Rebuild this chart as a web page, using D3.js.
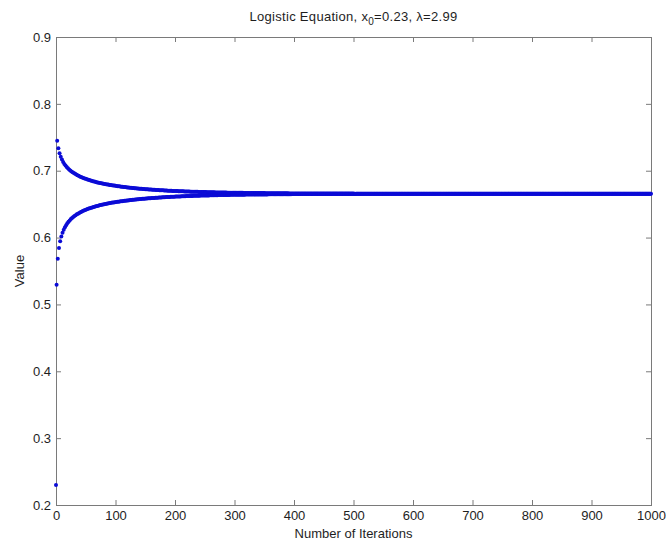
<!DOCTYPE html>
<html>
<head>
<meta charset="utf-8">
<script src="https://cdn.jsdelivr.net/npm/d3@7/dist/d3.min.js"></script>
<style>
  body { margin: 0; background: #fff; }
  text { font-family: "Liberation Sans", Arial, Helvetica, sans-serif; fill: #1e1e1e; }
</style>
</head>
<body>
<svg id="chart" width="666" height="543"></svg>
<script>
// Orbit of the logistic map x -> 2.99 x (1 - x), starting at x0 = 0.23.
const startValue = 0.23;

// Odd iterations 1, 3, 5, ..., 999 (the branch below the fixed point)
const lowerBranch = [
  0.5295, 0.5682, 0.5843, 0.5945, 0.6017, 0.6073, 0.6117, 0.6154, 0.6185,          // 1-17
  0.6213, 0.6236, 0.6257, 0.6276, 0.6292, 0.6308, 0.6322, 0.6335, 0.6347, 0.6358,  // 19-37
  0.6369, 0.6378, 0.6388, 0.6396, 0.6405, 0.6412, 0.6420, 0.6427, 0.6433, 0.6440,  // 39-57
  0.6446, 0.6451, 0.6457, 0.6462, 0.6467, 0.6472, 0.6477, 0.6482, 0.6486, 0.6490,  // 59-77
  0.6494, 0.6498, 0.6502, 0.6506, 0.6509, 0.6513, 0.6516, 0.6519, 0.6523, 0.6526,  // 79-97
  0.6529, 0.6531, 0.6534, 0.6537, 0.6540, 0.6542, 0.6545, 0.6547, 0.6550, 0.6552,  // 99-117
  0.6554, 0.6556, 0.6558, 0.6561, 0.6563, 0.6565, 0.6567, 0.6568, 0.6570, 0.6572,  // 119-137
  0.6574, 0.6576, 0.6577, 0.6579, 0.6580, 0.6582, 0.6584, 0.6585, 0.6587, 0.6588,  // 139-157
  0.6589, 0.6591, 0.6592, 0.6593, 0.6595, 0.6596, 0.6597, 0.6598, 0.6600, 0.6601,  // 159-177
  0.6602, 0.6603, 0.6604, 0.6605, 0.6606, 0.6607, 0.6608, 0.6609, 0.6610, 0.6611,  // 179-197
  0.6612, 0.6613, 0.6614, 0.6614, 0.6615, 0.6616, 0.6617, 0.6618, 0.6618, 0.6619,  // 199-217
  0.6620, 0.6621, 0.6621, 0.6622, 0.6623, 0.6623, 0.6624, 0.6625, 0.6625, 0.6626,  // 219-237
  0.6626, 0.6627, 0.6628, 0.6628, 0.6629, 0.6629, 0.6630, 0.6630, 0.6631, 0.6631,  // 239-257
  0.6632, 0.6632, 0.6633, 0.6633, 0.6634, 0.6634, 0.6634, 0.6635, 0.6635, 0.6636,  // 259-277
  0.6636, 0.6636, 0.6637, 0.6637, 0.6638, 0.6638, 0.6638, 0.6639, 0.6639, 0.6639,  // 279-297
  0.6640, 0.6640, 0.6640, 0.6641, 0.6641, 0.6641, 0.6641, 0.6642, 0.6642, 0.6642,  // 299-317
  0.6643, 0.6643, 0.6643, 0.6643, 0.6644, 0.6644, 0.6644, 0.6644, 0.6644, 0.6645,  // 319-337
  0.6645, 0.6645, 0.6645, 0.6646, 0.6646, 0.6646, 0.6646, 0.6646, 0.6646, 0.6647,  // 339-357
  0.6647, 0.6647, 0.6647, 0.6647, 0.6648, 0.6648, 0.6648, 0.6648, 0.6648, 0.6648,  // 359-377
  0.6648, 0.6649, 0.6649, 0.6649, 0.6649, 0.6649, 0.6649, 0.6649, 0.6649, 0.6650,  // 379-397
  0.6650, 0.6650, 0.6650, 0.6650, 0.6650, 0.6650, 0.6650, 0.6650, 0.6651, 0.6651,  // 399-417
  0.6651, 0.6651, 0.6651, 0.6651, 0.6651, 0.6651, 0.6651, 0.6651, 0.6651, 0.6652,  // 419-437
  0.6652, 0.6652, 0.6652, 0.6652, 0.6652, 0.6652, 0.6652, 0.6652, 0.6652, 0.6652,  // 439-457
  0.6652, 0.6652, 0.6652, 0.6653, 0.6653, 0.6653, 0.6653, 0.6653, 0.6653, 0.6653,  // 459-477
  0.6653, 0.6653, 0.6653, 0.6653, 0.6653, 0.6653, 0.6653, 0.6653, 0.6653, 0.6653,  // 479-497
  0.6653, 0.6653, 0.6653, 0.6654, 0.6654, 0.6654, 0.6654, 0.6654, 0.6654, 0.6654,  // 499-517
  0.6654, 0.6654, 0.6654, 0.6654, 0.6654, 0.6654, 0.6654, 0.6654, 0.6654, 0.6654,  // 519-537
  0.6654, 0.6654, 0.6654, 0.6654, 0.6654, 0.6654, 0.6654, 0.6654, 0.6654, 0.6654,  // 539-557
  0.6654, 0.6654, 0.6654, 0.6654, 0.6654, 0.6654, 0.6654, 0.6655, 0.6655, 0.6655,  // 559-577
  0.6655, 0.6655, 0.6655, 0.6655, 0.6655, 0.6655, 0.6655, 0.6655, 0.6655, 0.6655,  // 579-597
  0.6655, 0.6655, 0.6655, 0.6655, 0.6655, 0.6655, 0.6655, 0.6655, 0.6655, 0.6655,  // 599-617
  0.6655, 0.6655, 0.6655, 0.6655, 0.6655, 0.6655, 0.6655, 0.6655, 0.6655, 0.6655,  // 619-637
  0.6655, 0.6655, 0.6655, 0.6655, 0.6655, 0.6655, 0.6655, 0.6655, 0.6655, 0.6655,  // 639-657
  0.6655, 0.6655, 0.6655, 0.6655, 0.6655, 0.6655, 0.6655, 0.6655, 0.6655, 0.6655,  // 659-677
  0.6655, 0.6655, 0.6655, 0.6655, 0.6655, 0.6655, 0.6655, 0.6655, 0.6655, 0.6655,  // 679-697
  0.6655, 0.6655, 0.6655, 0.6655, 0.6655, 0.6655, 0.6655, 0.6655, 0.6655, 0.6655,  // 699-717
  0.6655, 0.6655, 0.6655, 0.6655, 0.6655, 0.6655, 0.6655, 0.6655, 0.6655, 0.6655,  // 719-737
  0.6655, 0.6655, 0.6655, 0.6655, 0.6655, 0.6655, 0.6655, 0.6655, 0.6655, 0.6655,  // 739-757
  0.6655, 0.6655, 0.6655, 0.6655, 0.6655, 0.6655, 0.6655, 0.6655, 0.6655, 0.6655,  // 759-777
  0.6655, 0.6655, 0.6655, 0.6655, 0.6655, 0.6655, 0.6655, 0.6655, 0.6655, 0.6655,  // 779-797
  0.6655, 0.6655, 0.6655, 0.6655, 0.6655, 0.6655, 0.6655, 0.6655, 0.6655, 0.6655,  // 799-817
  0.6655, 0.6655, 0.6655, 0.6655, 0.6655, 0.6655, 0.6655, 0.6655, 0.6655, 0.6655,  // 819-837
  0.6655, 0.6655, 0.6655, 0.6655, 0.6655, 0.6655, 0.6655, 0.6655, 0.6655, 0.6655,  // 839-857
  0.6655, 0.6655, 0.6655, 0.6655, 0.6655, 0.6655, 0.6655, 0.6655, 0.6655, 0.6655,  // 859-877
  0.6655, 0.6655, 0.6655, 0.6655, 0.6655, 0.6655, 0.6655, 0.6655, 0.6655, 0.6655,  // 879-897
  0.6655, 0.6655, 0.6655, 0.6655, 0.6655, 0.6655, 0.6655, 0.6655, 0.6655, 0.6655,  // 899-917
  0.6655, 0.6655, 0.6655, 0.6655, 0.6655, 0.6655, 0.6655, 0.6655, 0.6655, 0.6655,  // 919-937
  0.6655, 0.6655, 0.6655, 0.6655, 0.6655, 0.6655, 0.6655, 0.6655, 0.6655, 0.6655,  // 939-957
  0.6655, 0.6655, 0.6655, 0.6656, 0.6656, 0.6656, 0.6656, 0.6656, 0.6656, 0.6656,  // 959-977
  0.6656, 0.6656, 0.6656, 0.6656, 0.6656, 0.6656, 0.6656, 0.6656, 0.6656, 0.6656,  // 979-997
  0.6656                                                                            // 999
];

// Even iterations 2, 4, 6, ..., 1000 (the branch above the fixed point)
const upperBranch = [
  0.7449, 0.7336, 0.7262, 0.7208, 0.7166, 0.7131, 0.7102, 0.7077, 0.7055,          // 2-18
  0.7035, 0.7018, 0.7003, 0.6989, 0.6976, 0.6964, 0.6953, 0.6942, 0.6932, 0.6923,  // 20-38
  0.6915, 0.6906, 0.6899, 0.6891, 0.6884, 0.6878, 0.6871, 0.6865, 0.6860, 0.6854,  // 40-58
  0.6849, 0.6844, 0.6839, 0.6834, 0.6829, 0.6825, 0.6821, 0.6817, 0.6813, 0.6809,  // 60-78
  0.6805, 0.6802, 0.6798, 0.6795, 0.6792, 0.6788, 0.6785, 0.6782, 0.6780, 0.6777,  // 80-98
  0.6774, 0.6771, 0.6769, 0.6766, 0.6764, 0.6761, 0.6759, 0.6757, 0.6755, 0.6753,  // 100-118
  0.6750, 0.6748, 0.6746, 0.6744, 0.6743, 0.6741, 0.6739, 0.6737, 0.6735, 0.6734,  // 120-138
  0.6732, 0.6731, 0.6729, 0.6727, 0.6726, 0.6724, 0.6723, 0.6722, 0.6720, 0.6719,  // 140-158
  0.6718, 0.6716, 0.6715, 0.6714, 0.6713, 0.6712, 0.6710, 0.6709, 0.6708, 0.6707,  // 160-178
  0.6706, 0.6705, 0.6704, 0.6703, 0.6702, 0.6701, 0.6700, 0.6699, 0.6698, 0.6698,  // 180-198
  0.6697, 0.6696, 0.6695, 0.6694, 0.6693, 0.6693, 0.6692, 0.6691, 0.6690, 0.6690,  // 200-218
  0.6689, 0.6688, 0.6688, 0.6687, 0.6686, 0.6686, 0.6685, 0.6685, 0.6684, 0.6684,  // 220-238
  0.6683, 0.6682, 0.6682, 0.6681, 0.6681, 0.6680, 0.6680, 0.6679, 0.6679, 0.6678,  // 240-258
  0.6678, 0.6677, 0.6677, 0.6677, 0.6676, 0.6676, 0.6675, 0.6675, 0.6675, 0.6674,  // 260-278
  0.6674, 0.6673, 0.6673, 0.6673, 0.6672, 0.6672, 0.6672, 0.6671, 0.6671, 0.6671,  // 280-298
  0.6670, 0.6670, 0.6670, 0.6670, 0.6669, 0.6669, 0.6669, 0.6669, 0.6668, 0.6668,  // 300-318
  0.6668, 0.6668, 0.6667, 0.6667, 0.6667, 0.6667, 0.6666, 0.6666, 0.6666, 0.6666,  // 320-338
  0.6666, 0.6665, 0.6665, 0.6665, 0.6665, 0.6665, 0.6664, 0.6664, 0.6664, 0.6664,  // 340-358
  0.6664, 0.6664, 0.6663, 0.6663, 0.6663, 0.6663, 0.6663, 0.6663, 0.6662, 0.6662,  // 360-378
  0.6662, 0.6662, 0.6662, 0.6662, 0.6662, 0.6662, 0.6661, 0.6661, 0.6661, 0.6661,  // 380-398
  0.6661, 0.6661, 0.6661, 0.6661, 0.6661, 0.6660, 0.6660, 0.6660, 0.6660, 0.6660,  // 400-418
  0.6660, 0.6660, 0.6660, 0.6660, 0.6660, 0.6660, 0.6659, 0.6659, 0.6659, 0.6659,  // 420-438
  0.6659, 0.6659, 0.6659, 0.6659, 0.6659, 0.6659, 0.6659, 0.6659, 0.6659, 0.6659,  // 440-458
  0.6659, 0.6658, 0.6658, 0.6658, 0.6658, 0.6658, 0.6658, 0.6658, 0.6658, 0.6658,  // 460-478
  0.6658, 0.6658, 0.6658, 0.6658, 0.6658, 0.6658, 0.6658, 0.6658, 0.6658, 0.6658,  // 480-498
  0.6658, 0.6657, 0.6657, 0.6657, 0.6657, 0.6657, 0.6657, 0.6657, 0.6657, 0.6657,  // 500-518
  0.6657, 0.6657, 0.6657, 0.6657, 0.6657, 0.6657, 0.6657, 0.6657, 0.6657, 0.6657,  // 520-538
  0.6657, 0.6657, 0.6657, 0.6657, 0.6657, 0.6657, 0.6657, 0.6657, 0.6657, 0.6657,  // 540-558
  0.6657, 0.6657, 0.6657, 0.6657, 0.6657, 0.6657, 0.6656, 0.6656, 0.6656, 0.6656,  // 560-578
  0.6656, 0.6656, 0.6656, 0.6656, 0.6656, 0.6656, 0.6656, 0.6656, 0.6656, 0.6656,  // 580-598
  0.6656, 0.6656, 0.6656, 0.6656, 0.6656, 0.6656, 0.6656, 0.6656, 0.6656, 0.6656,  // 600-618
  0.6656, 0.6656, 0.6656, 0.6656, 0.6656, 0.6656, 0.6656, 0.6656, 0.6656, 0.6656,  // 620-638
  0.6656, 0.6656, 0.6656, 0.6656, 0.6656, 0.6656, 0.6656, 0.6656, 0.6656, 0.6656,  // 640-658
  0.6656, 0.6656, 0.6656, 0.6656, 0.6656, 0.6656, 0.6656, 0.6656, 0.6656, 0.6656,  // 660-678
  0.6656, 0.6656, 0.6656, 0.6656, 0.6656, 0.6656, 0.6656, 0.6656, 0.6656, 0.6656,  // 680-698
  0.6656, 0.6656, 0.6656, 0.6656, 0.6656, 0.6656, 0.6656, 0.6656, 0.6656, 0.6656,  // 700-718
  0.6656, 0.6656, 0.6656, 0.6656, 0.6656, 0.6656, 0.6656, 0.6656, 0.6656, 0.6656,  // 720-738
  0.6656, 0.6656, 0.6656, 0.6656, 0.6656, 0.6656, 0.6656, 0.6656, 0.6656, 0.6656,  // 740-758
  0.6656, 0.6656, 0.6656, 0.6656, 0.6656, 0.6656, 0.6656, 0.6656, 0.6656, 0.6656,  // 760-778
  0.6656, 0.6656, 0.6656, 0.6656, 0.6656, 0.6656, 0.6656, 0.6656, 0.6656, 0.6656,  // 780-798
  0.6656, 0.6656, 0.6656, 0.6656, 0.6656, 0.6656, 0.6656, 0.6656, 0.6656, 0.6656,  // 800-818
  0.6656, 0.6656, 0.6656, 0.6656, 0.6656, 0.6656, 0.6656, 0.6656, 0.6656, 0.6656,  // 820-838
  0.6656, 0.6656, 0.6656, 0.6656, 0.6656, 0.6656, 0.6656, 0.6656, 0.6656, 0.6656,  // 840-858
  0.6656, 0.6656, 0.6656, 0.6656, 0.6656, 0.6656, 0.6656, 0.6656, 0.6656, 0.6656,  // 860-878
  0.6656, 0.6656, 0.6656, 0.6656, 0.6656, 0.6656, 0.6656, 0.6656, 0.6656, 0.6656,  // 880-898
  0.6656, 0.6656, 0.6656, 0.6656, 0.6656, 0.6656, 0.6656, 0.6656, 0.6656, 0.6656,  // 900-918
  0.6656, 0.6656, 0.6656, 0.6656, 0.6656, 0.6656, 0.6656, 0.6656, 0.6656, 0.6656,  // 920-938
  0.6656, 0.6656, 0.6656, 0.6656, 0.6656, 0.6656, 0.6656, 0.6656, 0.6656, 0.6656,  // 940-958
  0.6656, 0.6656, 0.6656, 0.6656, 0.6656, 0.6656, 0.6656, 0.6656, 0.6656, 0.6656,  // 960-978
  0.6656, 0.6656, 0.6656, 0.6656, 0.6656, 0.6656, 0.6656, 0.6656, 0.6656, 0.6656,  // 980-998
  0.6656                                                                            // 1000
];

const xTickValues = [0, 100, 200, 300, 400, 500, 600, 700, 800, 900, 1000];
const yTickValues = [0.2, 0.3, 0.4, 0.5, 0.6, 0.7, 0.8, 0.9];

if (lowerBranch.length !== upperBranch.length) {
  throw new Error(`branch lengths differ: ${lowerBranch.length} vs ${upperBranch.length}`);
}

// Rebuild the orbit in iteration order: x0, then odd/even values alternate.
const orbit = [{ n: 0, v: startValue }];
for (let i = 0; i < lowerBranch.length; i++) {
  orbit.push({ n: 2 * i + 1, v: lowerBranch[i] });
  orbit.push({ n: 2 * i + 2, v: upperBranch[i] });
}

const svg = d3.select("#chart");
const box = { left: 56, right: 651, top: 37, bottom: 505 };

const x = d3.scaleLinear().domain([0, 1000]).range([box.left, box.right]);
const y = d3.scaleLinear().domain([0.2, 0.9]).range([box.bottom, box.top]);

const axisColor = "#7a7a7a";

function styleAxis(g) {
  g.select(".domain").remove();
  g.selectAll(".tick line").attr("stroke", axisColor);
  g.selectAll(".tick text").attr("fill", "#1e1e1e").style("font-size", "13px");
}

// bottom axis with labels, ticks pointing inward
svg.append("g")
  .attr("transform", `translate(0,${box.bottom})`)
  .call(d3.axisBottom(x).tickValues(xTickValues).tickSizeInner(-5).tickSizeOuter(0)
    .tickPadding(6).tickFormat(d3.format("d")))
  .call(styleAxis);

// top axis: ticks only
svg.append("g")
  .attr("transform", `translate(0,${box.top})`)
  .call(d3.axisTop(x).tickValues(xTickValues).tickSizeInner(-5).tickSizeOuter(0).tickFormat(""))
  .call(styleAxis);

// left axis with labels
svg.append("g")
  .attr("transform", `translate(${box.left},0)`)
  .call(d3.axisLeft(y).tickValues(yTickValues).tickSizeInner(-5).tickSizeOuter(0)
    .tickPadding(5).tickFormat(d3.format(".1f")))
  .call(styleAxis);

// right axis: ticks only
svg.append("g")
  .attr("transform", `translate(${box.right},0)`)
  .call(d3.axisRight(y).tickValues(yTickValues).tickSizeInner(-5).tickSizeOuter(0).tickFormat(""))
  .call(styleAxis);

// plot frame
svg.append("rect")
  .attr("x", box.left + 0.5).attr("y", box.top + 0.5)
  .attr("width", box.right - box.left).attr("height", box.bottom - box.top)
  .attr("fill", "none").attr("stroke", axisColor).attr("stroke-width", 1);

// orbit points
svg.append("g")
  .selectAll("circle")
  .data(orbit)
  .join("circle")
  .attr("cx", d => x(d.n))
  .attr("cy", d => y(d.v))
  .attr("r", 2)
  .attr("fill", "#0b0bd6");

// title with subscript
const title = svg.append("text")
  .attr("x", (box.left + box.right) / 2)
  .attr("y", 21)
  .attr("text-anchor", "middle")
  .style("font-size", "13px")
  .style("letter-spacing", "0.3px");
title.append("tspan").text("Logistic Equation, x");
title.append("tspan").attr("dy", 4).style("font-size", "10px").text("0");
title.append("tspan").attr("dy", -4).text("=0.23, λ=2.99");

// axis titles
svg.append("text")
  .attr("x", (box.left + box.right) / 2)
  .attr("y", 538)
  .attr("text-anchor", "middle")
  .style("font-size", "13px")
  .text("Number of Iterations");

svg.append("text")
  .attr("transform", `translate(24,${(box.top + box.bottom) / 2}) rotate(-90)`)
  .attr("text-anchor", "middle")
  .style("font-size", "13px")
  .text("Value");
</script>
</body>
</html>
